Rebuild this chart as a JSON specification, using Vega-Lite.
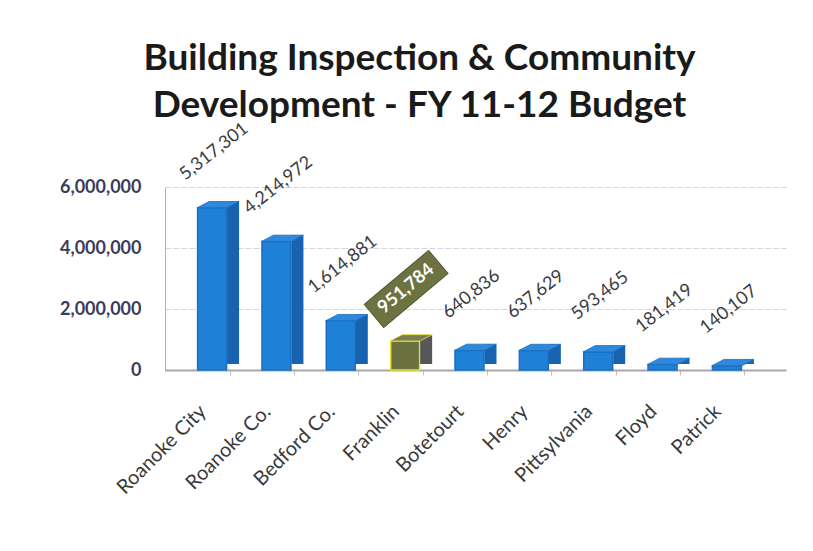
{
  "$schema": "https://vega.github.io/schema/vega-lite/v6.json",
  "width": 621,
  "height": 183,
  "autosize": {"type": "none"},
  "padding": {"left": 165, "top": 187, "right": 27, "bottom": 181},
  "background": "white",
  "title": {
    "text": ["Building Inspection & Community", "Development  - FY 11-12 Budget"],
    "font": "Lato",
    "fontSize": 37,
    "fontWeight": "bold",
    "color": "#1a1a1a",
    "lineHeight": 47,
    "anchor": "middle",
    "frame": "group",
    "dx": -56,
    "offset": -5
  },
  "config": {
    "view": {"stroke": null},
    "font": "Lato"
  },
  "data": {
    "values": [
      {"county": "Roanoke City", "value": 5317301},
      {"county": "Roanoke Co.", "value": 4214972},
      {"county": "Bedford Co.", "value": 1614881},
      {"county": "Franklin", "value": 951784},
      {"county": "Botetourt", "value": 640836},
      {"county": "Henry", "value": 637629},
      {"county": "Pittsylvania", "value": 593465},
      {"county": "Floyd", "value": 181419},
      {"county": "Patrick", "value": 140107}
    ]
  },
  "encoding": {
    "x": {
      "field": "county",
      "type": "nominal",
      "sort": null,
      "scale": {"paddingInner": 0.35, "paddingOuter": 0.5},
      "axis": {
        "title": null,
        "bandPosition": 0.786,
        "labelAngle": -45,
        "labelFont": "Lato",
        "labelFontSize": 20,
        "labelColor": "#3a3a3a",
        "labelPadding": 26,
        "labelOffset": -22,
        "tickColor": "#c4c4c4",
        "tickSize": 5,
        "domainColor": "#a8a8a8",
        "domainWidth": 2
      }
    },
    "y": {
      "field": "value",
      "type": "quantitative",
      "scale": {"domain": [0, 6000000]},
      "axis": {
        "title": null,
        "values": [0, 2000000, 4000000, 6000000],
        "format": ",d",
        "labelFont": "Lato",
        "labelFontSize": 18,
        "labelFontWeight": "bold",
        "labelColor": "#3b3b5c",
        "labelPadding": 24,
        "ticks": false,
        "domainColor": "#b0b0b0",
        "gridColor": "#cdd6e2",
        "gridDash": [6, 2]
      }
    }
  },
  "layer": [
    {
      "mark": {"type": "bar", "width": 29, "xOffset": -6},
      "encoding": {
        "color": {
          "condition": {"test": "datum.county === 'Franklin'", "value": "#6c7140"},
          "value": "#1f80d8"
        },
        "stroke": {
          "condition": {"test": "datum.county === 'Franklin'", "value": "#e6e030"},
          "value": "#1a6fc0"
        },
        "strokeWidth": {"value": 1.5}
      }
    },
    {
      "mark": {"type": "bar", "width": 12, "xOffset": 15, "yOffset": -6, "y2Offset": -3},
      "encoding": {
        "color": {
          "condition": {"test": "datum.county === 'Franklin'", "value": "#575757"},
          "value": "#1763b0"
        }
      }
    },
    {
      "mark": {
        "type": "point",
        "shape": "M-1,0L0.4286,0L1,-0.3L-0.4286,-0.3Z",
        "size": 1764,
        "filled": true,
        "opacity": 1,
        "strokeWidth": 0.8
      },
      "encoding": {
        "fill": {
          "condition": {"test": "datum.county === 'Franklin'", "value": "#7a7c52"},
          "value": "#2f88da"
        },
        "stroke": {
          "condition": {"test": "datum.county === 'Franklin'", "value": "#e6e030"},
          "value": "#1a6fc0"
        }
      }
    },
    {
      "transform": [{"filter": "datum.county !== 'Franklin'"}],
      "mark": {
        "type": "text",
        "angle": 322,
        "align": "center",
        "baseline": "middle",
        "font": "Lato",
        "fontSize": 18,
        "color": "#3c3c3c",
        "yOffset": -56,
        "xOffset": -4
      },
      "encoding": {
        "text": {"field": "value", "type": "quantitative", "format": ",d"}
      }
    },
    {
      "transform": [{"filter": "datum.county === 'Franklin'"}],
      "mark": {
        "type": "point",
        "shape": "M-1,-0.36L1,-0.36L1,0.36L-1,0.36Z",
        "size": 7056,
        "angle": 320,
        "filled": true,
        "fill": "#6d7242",
        "stroke": "#555a2c",
        "strokeWidth": 1,
        "opacity": 1,
        "yOffset": -52,
        "xOffset": -5
      },
      "encoding": {}
    },
    {
      "transform": [{"filter": "datum.county === 'Franklin'"}],
      "mark": {
        "type": "text",
        "angle": 320,
        "align": "center",
        "baseline": "middle",
        "font": "Lato",
        "fontSize": 18,
        "fontWeight": "bold",
        "color": "white",
        "yOffset": -52,
        "xOffset": -5
      },
      "encoding": {
        "text": {"field": "value", "type": "quantitative", "format": ",d"}
      }
    }
  ]
}
